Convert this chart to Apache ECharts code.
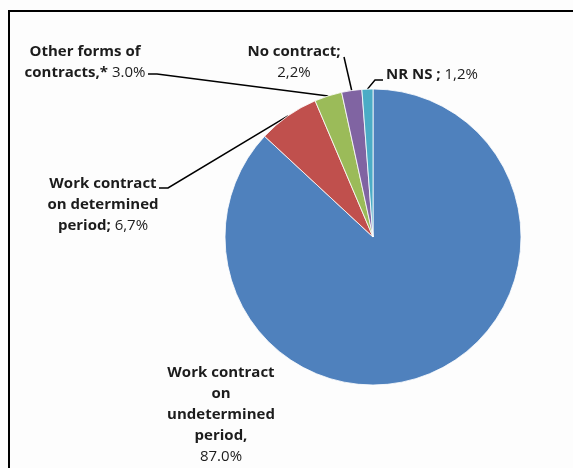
<!DOCTYPE html>
<html>
<head>
<meta charset="utf-8">
<script src="https://cdn.jsdelivr.net/npm/echarts@6/dist/echarts.min.js"></script>
<style>
  html, body { margin: 0; padding: 0; background: #fdfdfd; }
  #chart { width: 573px; height: 468px; }
</style>
</head>
<body>
<div id="chart"></div>
<script>
// Types of employment contract (share of respondents, %)
const categories = [
  'Work contract on undetermined period',
  'Work contract on determined period',
  'Other forms of contracts,*',
  'No contract',
  'NR NS'
];
const shares = [87.0, 6.7, 3.0, 2.2, 1.2];
const decimalMarks = ['.', ',', '.', ',', ','];
const colors = ['#4F81BD', '#C0504D', '#9BBB59', '#8064A2', '#4BACC6'];

// Label text, line by line; {v} is replaced by the formatted share
const labelLines = [
  ['Work contract', 'on', 'undetermined', 'period,', '{v}'],
  ['Work contract', 'on determined', 'period; {v}'],
  ['Other forms of', 'contracts,* {v}'],
  ['No contract;', '{v}'],
  ['NR NS ; {v}']
];

// Label placement: block anchor and the elbow of the leader line
const labelSpots = [
  { x: 221, y: 415, align: 'center', line: null },
  { x: 103, y: 205, align: 'center', line: [[168, 188], [159, 188]] },
  { x: 85,  y: 62,  align: 'center', line: [[157, 74], [148, 74]] },
  { x: 294, y: 62,  align: 'center', line: [[344, 57], [344, 57]] },
  { x: 386, y: 75,  align: 'left',   line: [[375, 80], [383, 80]] }
];

function shareText(i) {
  return shares[i].toFixed(1).replace('.', decimalMarks[i]) + '%';
}

function buildLabel(i) {
  const v = shareText(i);
  return labelLines[i].map(function (line) {
    const parts = line.split('{v}');
    let out = '';
    if (parts[0]) out += '{b|' + parts[0] + '}';
    if (parts.length > 1) {
      out += '{n|' + v + '}';
      if (parts[1]) out += '{b|' + parts[1] + '}';
    }
    return out;
  }).join('\n');
}

const chart = echarts.init(document.getElementById('chart'), null, { renderer: 'canvas' });

const seriesData = categories.map(function (name, i) {
  return {
    name: name,
    value: shares[i],
    itemStyle: { color: colors[i] },
    labelLine: { show: labelSpots[i].line !== null }
  };
});

const textBase = {
  fontFamily: 'Open Sans',
  fontSize: 15,
  color: '#1c1c1c',
  lineHeight: 21
};

chart.setOption({
  backgroundColor: '#fdfdfd',
  animation: false,
  graphic: [{
    type: 'polyline',
    shape: { points: [[9, 468], [9, 11], [573, 11]] },
    style: { stroke: '#000', lineWidth: 2, fill: null }
  }],
  series: [{
    type: 'pie',
    center: [373, 237],
    radius: 148,
    startAngle: 90,
    clockwise: true,
    avoidLabelOverlap: false,
    data: seriesData,
    itemStyle: { borderColor: '#ffffff', borderWidth: 0.8 },
    label: {
      show: true,
      position: 'outside',
      formatter: function (p) { return buildLabel(p.dataIndex); },
      rich: {
        b: Object.assign({ fontWeight: 'bold' }, textBase),
        n: Object.assign({ fontWeight: 'normal' }, textBase)
      }
    },
    labelLine: {
      show: true,
      lineStyle: { color: '#000', width: 1.5 }
    },
    labelLayout: function (params) {
      const spot = labelSpots[params.dataIndex];
      const res = {
        x: spot.x,
        y: spot.y,
        align: spot.align,
        verticalAlign: 'middle'
      };
      if (spot.line && params.labelLinePoints) {
        res.labelLinePoints = [params.labelLinePoints[0], spot.line[0], spot.line[1]];
      }
      return res;
    }
  }]
});
</script>
</body>
</html>
